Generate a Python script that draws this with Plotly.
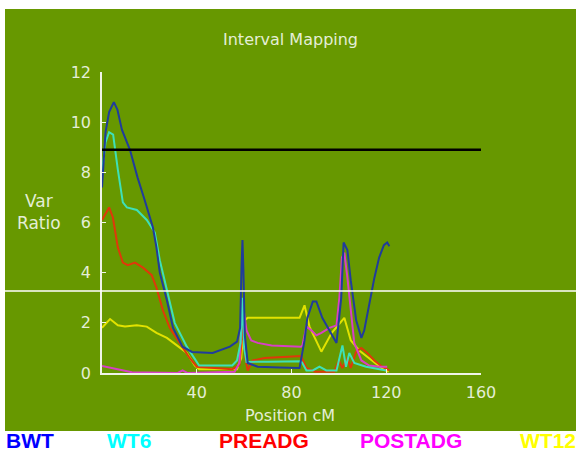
import plotly.graph_objects as go

# ---- data (Position cM, Var Ratio) ----
series_names = ["BWT", "WT6", "PREADG", "POSTADG", "WT12"]

bwt_x = [0, 1.5, 3, 5, 6.5, 8.4, 11.8, 15, 18, 21.5, 23, 24.4, 27.4, 30, 34, 38, 46.7, 54, 57, 58.3, 58.9, 59.3, 59.7, 60.3, 61.5, 65.7, 75, 83.4,
         85.5, 86.7, 89, 90.5, 93, 96, 99, 101, 102, 103.6, 105, 107.3, 109.5, 110.7, 112.8, 115, 117, 119, 120.4, 121.3]
bwt_y = [7.4, 9.6, 10.4, 10.8, 10.5, 9.7, 8.9, 7.8, 6.9, 5.8, 5.0, 4.0, 2.9, 1.8, 1.05, 0.84, 0.8, 1.05, 1.25, 1.8, 4.2, 5.3, 4.1, 1.5, 0.4, 0.25, 0.22, 0.2,
         1.3, 2.2, 2.85, 2.85, 2.2, 1.7, 1.2, 3.0, 5.2, 4.9, 3.7, 2.1, 1.4, 1.7, 2.8, 3.8, 4.6, 5.1, 5.2, 5.05]

wt6_x = [0, 1.5, 3, 4.7, 6.7, 8.8, 10.5, 14.7, 18.9, 22.3, 24.4, 27.4, 30.7, 35.8, 40, 41, 55, 57, 58.5, 59.3, 60, 61, 70, 84, 84.6,
         86.3, 89, 91.8, 94.7, 99, 101.5, 103, 104.4, 106.5, 111.5, 117, 120]
wt6_y = [8.0, 9.2, 9.6, 9.5, 8.1, 6.8, 6.6, 6.5, 6.1, 5.6, 4.5, 3.3, 2.0, 1.05, 0.4, 0.3, 0.3, 0.5, 1.2, 3.0, 1.0, 0.44, 0.45, 0.47, 0.4,
         0.1, 0.1, 0.25, 0.1, 0.1, 1.1, 0.25, 0.8, 0.4, 0.25, 0.15, 0.1]

preadg_x = [0, 3, 4.6, 6.7, 8.8, 10.9, 13.9, 17.3, 21, 23, 25.7, 28.6, 32.8, 37, 40, 55, 58, 59.5, 60.5, 61.5, 63.6, 68.6, 84, 86.3,
            90, 98, 100, 101.5, 103.6, 105, 107.3, 109.5, 112, 115, 118.3, 120.4, 121.3]
preadg_y = [6.1, 6.6, 6.2, 5.0, 4.4, 4.3, 4.4, 4.2, 3.9, 3.4, 2.5, 1.8, 1.2, 0.6, 0.25, 0.15, 0.3, 1.8, 0.6, 0.1, 0.5, 0.6, 0.68, 0.2,
            0.05, 0.05, 0.5, 0.2, 0.6, 0.2, 0.85, 1.0, 0.8, 0.5, 0.25, 0.15, 0.1]

postadg_x = [0, 4, 8, 12.6, 32, 34, 36, 56, 58, 59.3, 60, 61, 63, 65.7, 71.6, 80, 84, 84.6, 86.3, 88.4, 90.5, 92.6, 96, 99, 100.2, 101.3,
             102.3, 103.6, 105.2, 106.5, 109.5, 112.8, 117, 120.4]
postadg_y = [0.28, 0.2, 0.1, 0.03, 0.0, 0.1, 0.0, 0.05, 0.4, 2.9, 2.4, 1.7, 1.3, 1.2, 1.1, 1.05, 1.05, 1.1, 1.85, 1.7, 1.5, 1.6, 1.8, 1.9, 3.0, 4.6,
             4.8, 3.8, 2.4, 1.2, 0.5, 0.3, 0.25, 0.25]

wt12_x = [0, 3.4, 6.7, 9.7, 14.7, 18.9, 23, 27.4, 31.6, 35.8, 39.2, 41, 57, 58.8, 59.6, 60.3, 61.5, 83.4, 85.5, 87.6, 92.6, 97, 102.3,
          105, 108.6, 114, 118, 121]
wt12_y = [1.8, 2.15, 1.9, 1.85, 1.9, 1.85, 1.6, 1.4, 1.1, 0.8, 0.3, 0.15, 0.15, 0.6, 1.6, 2.1, 2.2, 2.2, 2.7, 1.85, 0.85, 1.6, 2.2,
          1.3, 0.9, 0.5, 0.2, 0.05]

threshold_high = 8.9
threshold_low = 3.27

x_tickvals = [40, 80, 120, 160]
y_tickvals = [0, 2, 4, 6, 8, 10, 12]

# ---- styling ----
GREEN = "#679800"
TXT = "#e4eed6"
line_colors = {"BWT": "#203c9c", "WT6": "#3ee0b8", "PREADG": "#e0380a", "POSTADG": "#d840c4", "WT12": "#e2e200"}
label_colors = {"BWT": "#0000ff", "WT6": "#00ffff", "PREADG": "#ff0000", "POSTADG": "#ff00ff", "WT12": "#ffff00"}

data = {
    "BWT": (bwt_x, bwt_y),
    "WT6": (wt6_x, wt6_y),
    "PREADG": (preadg_x, preadg_y),
    "POSTADG": (postadg_x, postadg_y),
    "WT12": (wt12_x, wt12_y),
}

fig = go.Figure()
for name in ["WT12", "PREADG", "POSTADG", "WT6", "BWT"]:
    xs, ys = data[name]
    fig.add_trace(go.Scatter(x=xs, y=ys, mode="lines", name=name,
                             line=dict(color=line_colors[name], width=2), showlegend=False))

W, H = 576, 451
L, R, T, B = 102, 95, 72, 78
pw, ph = W - L - R, H - T - B

def px2paper_x(px):
    return (px - L) / pw

def py2paper_y(py):
    return (H - B - py) / ph

shapes = [
    dict(type="rect", xref="paper", yref="paper",
         x0=px2paper_x(5), x1=px2paper_x(577), y0=py2paper_y(431), y1=py2paper_y(9),
         fillcolor=GREEN, line=dict(width=0), layer="below"),
    dict(type="line", xref="x", yref="y", x0=0, x1=162, y0=threshold_high, y1=threshold_high,
         line=dict(color="#000000", width=2.5), layer="above"),
    dict(type="line", xref="paper", yref="y", x0=px2paper_x(5), x1=px2paper_x(577),
         y0=threshold_low, y1=threshold_low, line=dict(color="#ffffff", width=1.3), layer="above"),
]

FONT = "DejaVu Sans"
annotations = [
    dict(text="Interval Mapping", xref="paper", yref="paper", x=px2paper_x(290), y=py2paper_y(40),
         showarrow=False, font=dict(family=FONT, size=16, color=TXT), xanchor="center", yanchor="middle"),
    dict(text="Var<br>Ratio", xref="paper", yref="paper", x=px2paper_x(39), y=py2paper_y(212),
         showarrow=False, font=dict(family=FONT, size=17, color=TXT), xanchor="center", yanchor="middle"),
    dict(text="Position cM", xref="paper", yref="paper", x=px2paper_x(290), y=py2paper_y(415),
         showarrow=False, font=dict(family=FONT, size=16, color=TXT), xanchor="center", yanchor="middle"),
]
label_left = {"BWT": 4, "WT6": 105, "PREADG": 217, "POSTADG": 358, "WT12": 518}
for name in series_names:
    annotations.append(dict(text="<b>%s</b>" % name, xref="paper", yref="paper",
                            x=px2paper_x(label_left[name]), y=py2paper_y(440),
                            showarrow=False, xanchor="left", yanchor="middle",
                            font=dict(family="Liberation Sans, Arial", size=21, color=label_colors[name])))

fig.update_layout(
    width=W, height=H,
    margin=dict(l=L, r=R, t=T, b=B, pad=0),
    paper_bgcolor="#ffffff",
    plot_bgcolor="rgba(0,0,0,0)",
    shapes=shapes,
    annotations=annotations,
    xaxis=dict(range=[0, 160], tickvals=x_tickvals, showgrid=False, zeroline=False,
               showline=True, linecolor="#f0f4e8", linewidth=1.5, ticks="inside", ticklen=4,
               tickcolor="#f0f4e8", tickfont=dict(family=FONT, size=16, color=TXT), ticklabelstandoff=4),
    yaxis=dict(range=[0, 12], tickvals=y_tickvals, showgrid=False, zeroline=False,
               showline=True, linecolor="#f0f4e8", linewidth=1.5, ticks="inside", ticklen=4,
               tickcolor="#f0f4e8", tickfont=dict(family=FONT, size=16, color=TXT), ticklabelstandoff=6),
    showlegend=False,
)

fig.write_html("out.html", config={"displayModeBar": False},
               post_script="document.body.style.margin='0';document.body.style.overflow='hidden';")
